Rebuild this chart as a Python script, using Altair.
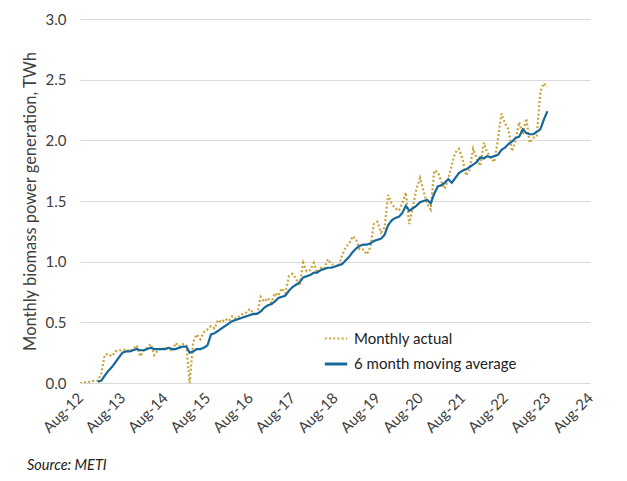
import altair as alt
import pandas as pd

# Monthly actual, Aug-2012 .. Aug-2023 (TWh)
actual = [
    0.00, 0.00, 0.01, 0.01, 0.02, 0.02, 0.08, 0.23, 0.24, 0.22, 0.26, 0.27,  # Aug12-Jul13
    0.27, 0.28, 0.26, 0.28, 0.31, 0.22, 0.27, 0.29, 0.32, 0.23, 0.27, 0.29,  # Aug13-Jul14
    0.28, 0.29, 0.26, 0.33, 0.30, 0.32, 0.31, 0.00, 0.34, 0.40, 0.36, 0.42,  # Aug14-Jul15
    0.44, 0.47, 0.45, 0.52, 0.50, 0.53, 0.51, 0.55, 0.53, 0.55, 0.57, 0.58,  # Aug15-Jul16
    0.61, 0.57, 0.56, 0.71, 0.67, 0.70, 0.66, 0.74, 0.72, 0.78, 0.74, 0.88,  # Aug16-Jul17
    0.90, 0.86, 0.80, 0.99, 0.92, 0.93, 0.99, 0.91, 0.95, 0.94, 1.02, 0.98,  # Aug17-Jul18
    0.97, 0.96, 1.05, 1.12, 1.15, 1.21, 1.18, 1.10, 1.10, 1.06, 1.12, 1.31,  # Aug18-Jul19
    1.33, 1.24, 1.28, 1.55, 1.48, 1.44, 1.42, 1.48, 1.57, 1.31, 1.45, 1.60,  # Aug19-Jul20
    1.69, 1.58, 1.48, 1.43, 1.75, 1.74, 1.66, 1.60, 1.68, 1.80, 1.90, 1.93,  # Aug20-Jul21
    1.85, 1.71, 1.76, 1.93, 1.85, 1.79, 1.98, 1.90, 1.86, 1.82, 2.00, 2.22,  # Aug21-Jul22
    2.14, 2.09, 1.91, 2.00, 2.15, 2.05, 2.18, 1.98, 2.02, 2.03, 2.40, 2.47,  # Aug22-Jul23
    2.44,                                                                    # Aug23
]

# 6 month moving average, Jan-2013 .. Aug-2023 (TWh)
moving_avg = [
    0.01, 0.02, 0.06, 0.10, 0.13, 0.17, 0.21,                                # Jan13-Jul13
    0.25, 0.26, 0.26, 0.27, 0.28, 0.27, 0.27, 0.28, 0.29, 0.28, 0.28, 0.28,  # Aug13-Jul14
    0.28, 0.29, 0.28, 0.28, 0.29, 0.30, 0.30, 0.25, 0.26, 0.28, 0.28, 0.29,  # Aug14-Jul15
    0.31, 0.40, 0.41, 0.43, 0.45, 0.47, 0.49, 0.51, 0.52, 0.53, 0.54, 0.55,  # Aug15-Jul16
    0.56, 0.57, 0.57, 0.59, 0.62, 0.64, 0.65, 0.67, 0.70, 0.71, 0.72, 0.76,  # Aug16-Jul17
    0.79, 0.81, 0.83, 0.87, 0.88, 0.89, 0.91, 0.91, 0.93, 0.94, 0.95, 0.95,  # Aug17-Jul18
    0.96, 0.97, 0.98, 1.01, 1.04, 1.08, 1.11, 1.13, 1.14, 1.14, 1.15, 1.17,  # Aug18-Jul19
    1.18, 1.19, 1.22, 1.30, 1.34, 1.36, 1.37, 1.40, 1.46, 1.42, 1.44, 1.46,  # Aug19-Jul20
    1.49, 1.50, 1.51, 1.48, 1.56, 1.62, 1.63, 1.65, 1.68, 1.65, 1.69, 1.73,  # Aug20-Jul21
    1.75, 1.76, 1.78, 1.80, 1.82, 1.86, 1.85, 1.87, 1.86, 1.87, 1.88, 1.92,  # Aug21-Jul22
    1.94, 1.97, 1.99, 2.02, 2.03, 2.09, 2.06, 2.05, 2.05, 2.07, 2.09, 2.17,  # Aug22-Jul23
    2.24,                                                                    # Aug23
]

series_names = ["Monthly actual", "6 month moving average"]
series_colors = ["#C8A43E", "#17689A"]
tick_years = list(range(2012, 2025))

actual_dates = pd.date_range("2012-08-01", periods=len(actual), freq="MS")
ma_dates = pd.date_range("2013-01-01", periods=len(moving_avg), freq="MS")

df = pd.concat([
    pd.DataFrame({"date": actual_dates.strftime("%Y-%m-%d"), "value": actual,
                  "series": series_names[0]}),
    pd.DataFrame({"date": ma_dates.strftime("%Y-%m-%d"), "value": moving_avg,
                  "series": series_names[1]}),
])

FONT = "Lato"

x = alt.X(
    "date:T",
    scale=alt.Scale(type="utc",
                    domain=[alt.DateTime(year=2012, month=8, date=1, utc=True),
                            alt.DateTime(year=2024, month=8, date=1, utc=True)]),
    axis=alt.Axis(
        values=[alt.DateTime(year=y, month=8, date=1, utc=True) for y in tick_years],
        labelExpr="utcFormat(datum.value, '%b-%y')",
        labelAngle=-45, labelAlign="right",
        labelBaseline="middle", labelPadding=12, grid=False, domain=False,
        ticks=False, title=None, labelFontSize=15, labelColor="#404040",
        labelFont=FONT, labelOverlap=False,
    ),
)
y = alt.Y(
    "value:Q",
    scale=alt.Scale(domain=[0, 3.0]),
    axis=alt.Axis(
        values=[0, 0.5, 1.0, 1.5, 2.0, 2.5, 3.0], format=".1f",
        grid=True, gridColor="#D9D9D9", gridWidth=1, domain=False, ticks=False,
        labelPadding=14, labelFontSize=15, labelColor="#404040", labelFont=FONT,
        title="Monthly biomass power generation, TWh", titleFontSize=16.5,
        titleFontWeight="normal", titleColor="#404040", titleFont=FONT,
        titlePadding=7,
    ),
)

chart = alt.Chart(df).mark_line(strokeWidth=2.2, clip=True).encode(
    x=x,
    y=y,
    color=alt.Color(
        "series:N",
        scale=alt.Scale(domain=series_names, range=series_colors),
        legend=alt.Legend(
            title=None, orient="none", legendX=243, legendY=307,
            symbolType="stroke", symbolSize=500, symbolStrokeWidth=2.6,
            labelFontSize=15, labelFont=FONT, labelColor="#222222",
            rowPadding=4, labelOffset=5, labelLimit=0,
        ),
    ),
    strokeDash=alt.StrokeDash(
        "series:N",
        scale=alt.Scale(domain=series_names, range=[[2, 2.2], [1, 0]]),
        legend=None,
    ),
    strokeWidth=alt.StrokeWidth(
        "series:N",
        scale=alt.Scale(domain=series_names, range=[1.8, 2.8]),
        legend=None,
    ),
    order=alt.Order("date:T"),
).properties(
    width=510,
    height=364,
    autosize="none",
    padding={"left": 72, "top": 11, "right": 29, "bottom": 90},
    title=alt.TitleParams(
        "Source: METI", orient="bottom", anchor="start", frame="group",
        fontStyle="italic", fontWeight="normal", fontSize=14.5, font=FONT,
        color="#222222", dx=-53, offset=24,
    ),
).configure_view(stroke=None)

chart.save("out.html", embed_options={"renderer": "svg", "actions": False})
